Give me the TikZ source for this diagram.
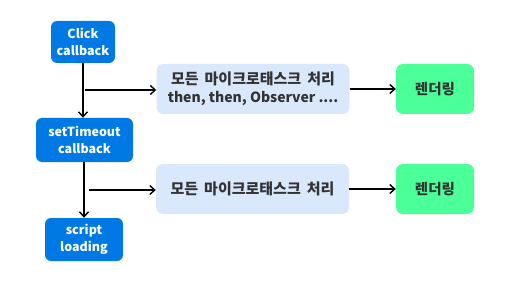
\documentclass[tikz,border=0pt]{standalone}
\usepackage{fontspec}
\setmainfont{Noto Sans CJK KR}
\usetikzlibrary{positioning,arrows.meta}
\definecolor{cbblue}{HTML}{0079E4}
\definecolor{mtask}{HTML}{DAE8FC}
\definecolor{rgreen}{HTML}{4BFF99}
\definecolor{ink}{HTML}{333333}
\newcommand{\kor}{\fontsize{15}{18}\selectfont\spaceskip=6pt}
\tikzset{
  flow/.style={-{Straight Barb[length=5pt,width=9pt,line width=1.4pt]}, line width=1.6pt, color=black},
  cb/.style={rounded corners=6pt, fill=cbblue, text=white, align=center,
    font=\fontsize{12.5}{16.5}\selectfont\bfseries, inner sep=0pt},
  mt/.style={rounded corners=7pt, fill=mtask, text=ink, align=center,
    font=\fontsize{14}{18}\selectfont\bfseries, minimum width=193pt, minimum height=50pt, inner sep=0pt},
  rd/.style={rounded corners=7pt, fill=rgreen, text=ink, align=center,
    font=\fontsize{14.5}{18}\selectfont\bfseries, minimum width=78pt, minimum height=50pt, inner sep=0pt},
}
\begin{document}
\begin{tikzpicture}[x=1pt,y=-1pt]
  \useasboundingbox (0,0) rectangle (527,294);
  % callbacks
  \node[cb, minimum width=64pt, minimum height=42pt] (click) at (83,42) {Click\\callback};
  \node[cb, minimum width=97pt, minimum height=44pt] (timeout) at (84.5,140) {setTimeout\\callback};
  \node[cb, minimum width=78pt, minimum height=43pt] (script) at (84,239.5) {script\\loading};
  % microtasks + rendering
  \node[mt] (micro1) at (253,89) {{\kor 모든 마이크로태스크 처리}\\then, then, Observer ....};
  \node[rd] (render1) at (435,89) {렌더링};
  \node[mt] (micro2) at (252.5,189) {\kor 모든 마이크로태스크 처리};
  \node[rd] (render2) at (435,189) {렌더링};
  \coordinate (tap1) at (85,90);
  \coordinate (tap2) at (89,190);
  \draw[flow] (click) -- (click |- timeout.north);
  \draw[flow] (timeout.south -| script) -- (script);
  \draw[flow] (tap1) -- (micro1.west |- tap1);
  \draw[flow] (tap2) -- (micro2.west |- tap2);
  \draw[flow] (micro1) -- (render1);
  \draw[flow] (micro2) -- (render2);
\end{tikzpicture}
\end{document}
